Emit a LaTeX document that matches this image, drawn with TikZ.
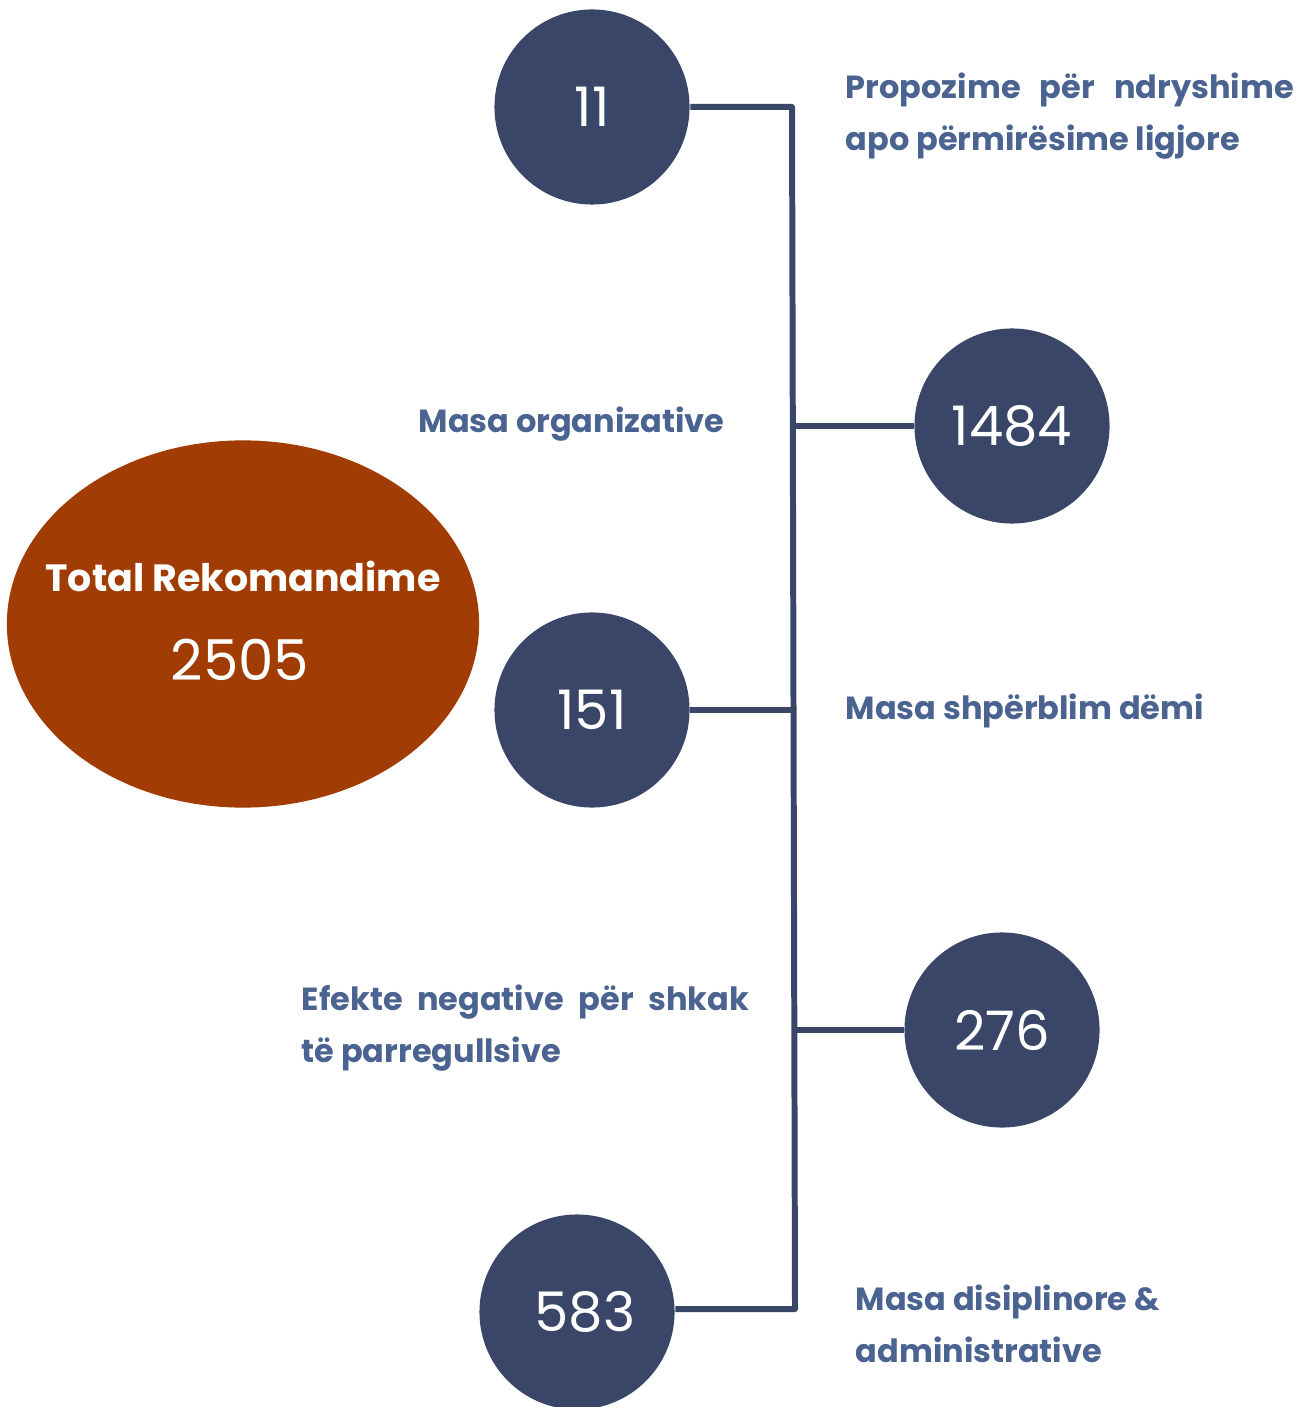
\documentclass[tikz,border=0pt]{standalone}
\usepackage{fontspec}
\setmainfont{Poppins}
\usetikzlibrary{positioning,calc,shapes.geometric}
\definecolor{navy}{HTML}{394668}
\definecolor{rust}{HTML}{A03C04}
\definecolor{labelblue}{HTML}{4A6390}
\tikzset{
    numcircle/.style = {circle, fill=navy, minimum size=1.95cm, inner sep=0pt,
        text=white, font=\fontsize{15.5}{18}\selectfont},
    totalbox/.style = {ellipse, fill=rust, minimum width=4.72cm,
        minimum height=3.67cm, inner sep=0pt, text=white, align=center},
    catlabel/.style = {anchor=west, inner sep=0pt, text=labelblue, align=left,
        font=\fontsize{9.1}{14.8}\selectfont\bfseries},
    link/.style = {draw=navy, line width=1.7pt, line join=round}
}

\begin{document}
\begin{tikzpicture}[x=0.01cm, y=-0.01cm]
    \useasboundingbox (0,0) rectangle (1309,1407);
    % total
    \node [totalbox] (total) at (243,624) {};
    \node [text=white, font=\fontsize{10.8}{13}\selectfont\bfseries] (totaltxt) at (243,576) {Total Rekomandime};
    \node [text=white, font=\fontsize{16}{19}\selectfont] (totalnum) at (240,660) {2505};
    % number circles
    \node [numcircle] (n11) at (592,107) {11};
    \node [numcircle] (n1484) at (1012,426) {1484};
    \node [numcircle] (n151) at (592,710) {151};
    \node [numcircle] (n276) at (1002,1030) {276};
    \node [numcircle] (n583) at (577,1312) {\hspace*{4.5pt}583};
    % trunk
    \coordinate (t1) at (792,107);
    \coordinate (t2) at (793,426);
    \coordinate (t3) at (793,710);
    \coordinate (t4) at (794,1030);
    \coordinate (t5) at (795,1309);
    \draw [link] (n11.east) -- (t1) -- (t5) -- (n583.east |- t5);
    \draw [link] (t2) -- (n1484.west);
    \draw [link] (n151.east) -- (t3);
    \draw [link] (t4) -- (n276.west);
    % labels
    \node [catlabel] (lab11) at (845,116) {\makebox[4.48cm][s]{Propozime për ndryshime}\\apo përmirësime ligjore};
    \node [catlabel] (lab1484) at (418,424) {Masa organizative};
    \node [catlabel] (lab151) at (845,711) {Masa shpërblim dëmi};
    \node [catlabel] (lab276) at (301,1028) {\makebox[4.47cm][s]{Efekte negative për shkak}\\të parregullsive};
    \node [catlabel] (lab583) at (855,1324) {Masa disiplinore \&\\administrative};
\end{tikzpicture}
\end{document}
